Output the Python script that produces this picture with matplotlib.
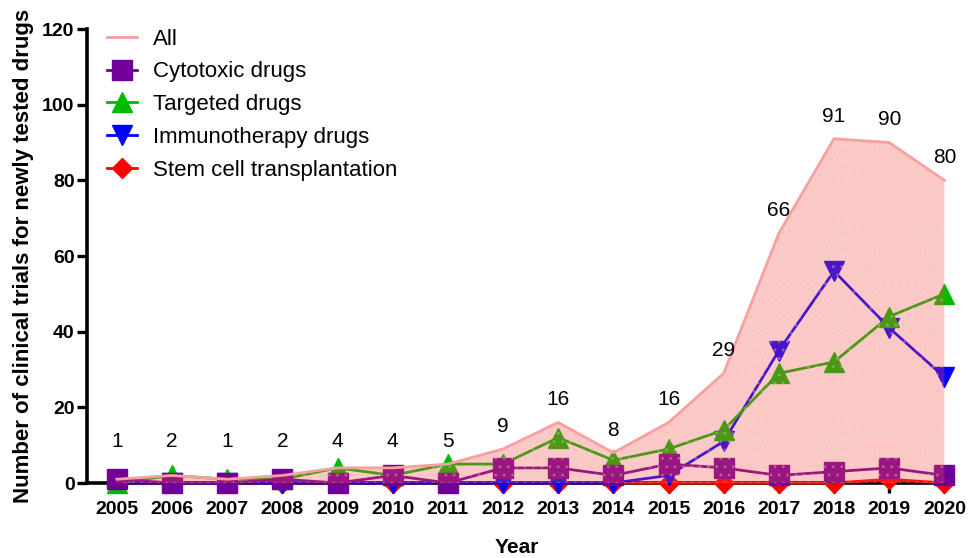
import matplotlib
matplotlib.use('Agg')
import matplotlib.pyplot as plt
import numpy as np

plt.rcParams['font.family'] = ['Liberation Sans', 'DejaVu Sans']
plt.rcParams['hatch.linewidth'] = 1.0

years = list(range(2005, 2021))
all_trials = [1, 2, 1, 2, 4, 4, 5, 9, 16, 8, 16, 29, 66, 91, 90, 80]
cytotoxic = [1, 0, 0, 1, 0, 2, 0, 4, 4, 2, 5, 4, 2, 3, 4, 2]
targeted = [0, 2, 1, 1, 4, 2, 5, 5, 12, 6, 9, 14, 29, 32, 44, 50]
immuno = [0, 0, 0, 0, 0, 0, 0, 0, 0, 0, 2, 11, 35, 56, 41, 28]
stem_cell = [0, 0, 0, 0, 0, 0, 0, 0, 0, 0, 0, 0, 0, 0, 1, 0]

fig = plt.figure(figsize=(9.68, 5.58), dpi=100)
ax = fig.add_axes([0.0899, 0.1344, 0.888, 0.8136])

# lines with markers, bottom to top
ax.plot(years, stem_cell, color='#ff0000', marker='D', markersize=10, lw=2,
        label='Stem cell transplantation', zorder=4, clip_on=False)
ax.plot(years, immuno, color='#0000ff', marker='v', markersize=14, lw=2,
        label='Immunotherapy drugs', zorder=5, clip_on=False)
ax.plot(years, targeted, color='#00bb00', marker='^', markersize=14, lw=2,
        label='Targeted drugs', zorder=6, clip_on=False)
ax.plot(years, cytotoxic, color='#700098', marker='s', markersize=14, lw=2,
        label='Cytotoxic drugs', zorder=7, clip_on=False)

# pink area for all trials, drawn over the lines
ax.fill_between(years, 0, all_trials, facecolor='#ff4a4a', alpha=0.3, lw=0, zorder=8)
ax.fill_between(years, 0, all_trials, facecolor='none', hatch='..', edgecolor='#b8dca0',
                lw=0, zorder=8, alpha=0.3)
ax.plot(years, all_trials, color='#f7a0a0', lw=2, label='All', zorder=9)

for x, v in zip(years, all_trials):
    ax.text(x, max(v, 5) + 6, str(v), ha='center', va='center', fontsize=15, zorder=10)

ax.set_xlim(2004.46, 2020.04)
ax.set_ylim(0, 120)
ax.set_xticks(years)
ax.set_yticks(range(0, 121, 20))
for lab in ax.get_xticklabels() + ax.get_yticklabels():
    lab.set_fontweight('bold')
ax.tick_params(axis='both', labelsize=14, width=2.4, length=7, direction='out')
ax.tick_params(axis='x', pad=6)
ax.tick_params(axis='y', pad=2)
for side in ['top', 'right']:
    ax.spines[side].set_visible(False)
for side in ['left', 'bottom']:
    ax.spines[side].set_linewidth(2.6)

ax.set_xlabel('Year', fontsize=15, fontweight='bold', labelpad=14)
ax.set_ylabel('Number of clinical trials for newly tested drugs', fontsize=16,
              fontweight='bold', labelpad=6)

h, l = ax.get_legend_handles_labels()
order = [4, 3, 2, 1, 0]
ax.legend([h[i] for i in order], [l[i] for i in order], loc='upper left',
          bbox_to_anchor=(0.0, 1.045), frameon=False, fontsize=16,
          handlelength=1.35, labelspacing=0.53, handletextpad=0.7)

fig.savefig('out.png', dpi=100)
